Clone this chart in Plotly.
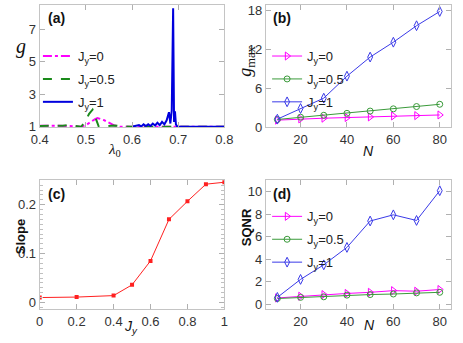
import plotly.graph_objects as go

# ---- panel (a): g vs lambda_0 ----
lam_jy0 = [0.40, 0.42, 0.44, 0.46, 0.48, 0.49, 0.50, 0.51, 0.52, 0.525, 0.53, 0.54, 0.55, 0.56, 0.574, 0.59, 0.60, 0.70, 0.80]
g_jy0 = [1.06, 1.08, 1.06, 1.05, 1.02, 1.0, 1.1, 1.3, 1.47, 1.54, 1.5, 1.4, 1.25, 1.1, 1.0, 1.0, 1.0, 1.0, 1.0]

lam_jy05 = [0.40, 0.43, 0.45, 0.46, 0.47, 0.48, 0.49, 0.50, 0.507, 0.5145, 0.52, 0.528, 0.54, 0.56, 0.57, 0.58, 0.60, 0.70, 0.80]
g_jy05 = [1.05, 1.05, 1.07, 1.1, 1.06, 1.02, 1.0, 1.4, 1.8, 2.05, 1.6, 1.0, 1.02, 1.08, 1.05, 1.02, 1.0, 1.0, 1.0]

lam_jy1 = [0.600, 0.610, 0.615, 0.620, 0.625, 0.630, 0.635, 0.640, 0.645, 0.650, 0.655, 0.660, 0.665, 0.670, 0.675,
           0.680, 0.683, 0.686, 0.689, 0.691, 0.693, 0.695, 0.697, 0.700, 0.710, 0.750, 0.800]
g_jy1 = [1.0, 1.05, 1.1, 1.02, 1.15, 1.05, 1.15, 1.05, 1.2, 1.08, 1.25, 1.1, 1.3, 1.15, 1.4,
         1.9, 1.2, 2.0, 8.3, 1.3, 1.95, 1.15, 1.05, 1.0, 1.0, 1.0, 1.0]

# ---- panel (b): g_max vs N ----
N = [10, 20, 30, 40, 50, 60, 70, 80]
gmax_jy0 = [1.1, 1.3, 1.4, 1.5, 1.6, 1.75, 1.8, 1.9]
gmax_jy05 = [1.2, 1.55, 1.85, 2.15, 2.5, 2.85, 3.2, 3.55]
gmax_jy1 = [1.25, 2.9, 4.5, 7.9, 10.85, 13.15, 15.7, 17.9]

# ---- panel (c): slope vs J_y ----
jy = [0, 0.2, 0.4, 0.5, 0.6, 0.7, 0.8, 0.9, 1.0]
slope = [0.010, 0.011, 0.014, 0.036, 0.085, 0.170, 0.207, 0.242, 0.246]

# ---- panel (d): SQNR vs N ----
sqnr_jy0 = [0.55, 0.7, 0.85, 0.95, 1.05, 1.2, 1.15, 1.3]
sqnr_jy05 = [0.5, 0.6, 0.65, 0.8, 0.85, 0.9, 1.0, 1.05]
sqnr_jy1 = [0.6, 2.2, 3.5, 5.05, 7.4, 7.95, 7.45, 10.1]

MAGENTA = "#ff00ff"
GREEN = "#1a8a1a"
BLUE = "#0000dd"
LBLUE = "#3a3ae8"
LGREEN = "#3a9a3a"
RED = "#ff2020"

fig = go.Figure()

# (a)
fig.add_trace(go.Scatter(x=lam_jy0, y=g_jy0, mode="lines", name="J<sub>y</sub>=0",
                         line=dict(color=MAGENTA, width=2, dash="dashdot"),
                         legend="legend", legendgroup="a0"))
fig.add_trace(go.Scatter(x=lam_jy05, y=g_jy05, mode="lines", name="J<sub>y</sub>=0.5",
                         line=dict(color=GREEN, width=2, dash="dash"),
                         legend="legend", legendgroup="a1"))
fig.add_trace(go.Scatter(x=lam_jy1, y=g_jy1, mode="lines", name="J<sub>y</sub>=1",
                         line=dict(color=BLUE, width=2),
                         legend="legend", legendgroup="a2"))

# (b)
fig.add_trace(go.Scatter(x=N, y=gmax_jy0, mode="lines+markers", name="J<sub>y</sub>=0",
                         line=dict(color=MAGENTA, width=1),
                         marker=dict(symbol="triangle-right-open", size=7, color=MAGENTA),
                         xaxis="x2", yaxis="y2", legend="legend2", legendgroup="b0"))
fig.add_trace(go.Scatter(x=N, y=gmax_jy05, mode="lines+markers", name="J<sub>y</sub>=0.5",
                         line=dict(color=LGREEN, width=1),
                         marker=dict(symbol="circle-open", size=6, color=LGREEN),
                         xaxis="x2", yaxis="y2", legend="legend2", legendgroup="b1"))
fig.add_trace(go.Scatter(x=N, y=gmax_jy1, mode="lines+markers", name="J<sub>y</sub>=1",
                         line=dict(color=LBLUE, width=1),
                         marker=dict(symbol="diamond-tall-open", size=7, color=LBLUE),
                         xaxis="x2", yaxis="y2", legend="legend2", legendgroup="b2"))

# (c)
fig.add_trace(go.Scatter(x=jy, y=slope, mode="lines+markers", showlegend=False,
                         line=dict(color=RED, width=1),
                         marker=dict(symbol="square", size=4, color=RED),
                         xaxis="x3", yaxis="y3"))

# (d)
fig.add_trace(go.Scatter(x=N, y=sqnr_jy0, mode="lines+markers", name="J<sub>y</sub>=0",
                         line=dict(color=MAGENTA, width=1),
                         marker=dict(symbol="triangle-right-open", size=7, color=MAGENTA),
                         xaxis="x4", yaxis="y4", legend="legend3", legendgroup="d0"))
fig.add_trace(go.Scatter(x=N, y=sqnr_jy05, mode="lines+markers", name="J<sub>y</sub>=0.5",
                         line=dict(color=LGREEN, width=1),
                         marker=dict(symbol="circle-open", size=6, color=LGREEN),
                         xaxis="x4", yaxis="y4", legend="legend3", legendgroup="d1"))
fig.add_trace(go.Scatter(x=N, y=sqnr_jy1, mode="lines+markers", name="J<sub>y</sub>=1",
                         line=dict(color=LBLUE, width=1),
                         marker=dict(symbol="diamond-tall-open", size=7, color=LBLUE),
                         xaxis="x4", yaxis="y4", legend="legend3", legendgroup="d2"))

axis_style = dict(showline=True, linecolor="#c4c4c4", linewidth=1, mirror="ticks",
                  ticks="inside", ticklen=5, tickcolor="#b0b0b0", showgrid=False,
                  zeroline=False, tickfont=dict(size=13, color="#333"))

xa = [0.069, 0.484]
xb = [0.577, 0.994]
ytop = [0.622, 0.988]
ybot = [0.077, 0.464]

legend_style = dict(xanchor="left", yanchor="top", bgcolor="rgba(0,0,0,0)",
                    font=dict(size=13, color="#222"), tracegroupgap=3)

fig.update_layout(
    width=463, height=343,
    margin=dict(l=0, r=0, t=0, b=0),
    paper_bgcolor="white", plot_bgcolor="white",
    font=dict(family="Liberation Sans, Arial, sans-serif", color="#222"),
    xaxis=dict(axis_style, domain=xa, range=[0.4, 0.8], tickvals=[0.4, 0.5, 0.6, 0.7, 0.8], anchor="y"),
    yaxis=dict(axis_style, domain=ytop, range=[0.97, 8.5], tickvals=[1, 3, 5, 7], anchor="x"),
    xaxis2=dict(axis_style, domain=xb, range=[5, 85], tickvals=[20, 40, 60, 80], anchor="y2"),
    yaxis2=dict(axis_style, domain=ytop, range=[0, 18.9], tickvals=[0, 6, 12, 18], anchor="x2"),
    xaxis3=dict(axis_style, domain=xa, range=[0, 1], tickvals=[0, 0.2, 0.4, 0.6, 0.8, 1],
                ticktext=["0", "0.2", "0.4", "0.6", "0.8", "1"], anchor="y3"),
    yaxis3=dict(axis_style, domain=ybot, range=[-0.014, 0.2505], tickvals=[0, 0.1, 0.2],
                minor=dict(dtick=0.01, ticks="inside", ticklen=3, tickcolor="#c0c0c0"), anchor="x3"),
    xaxis4=dict(axis_style, domain=xb, range=[5, 85], tickvals=[20, 40, 60, 80], anchor="y4"),
    yaxis4=dict(axis_style, domain=ybot, range=[-0.46, 11.05], tickvals=[0, 2, 4, 6, 8, 10], anchor="x4"),
    legend=dict(legend_style, x=0.065, y=0.88),
    legend2=dict(legend_style, x=0.58, y=0.88),
    legend3=dict(legend_style, x=0.58, y=0.40),
)

serif = "Liberation Serif, DejaVu Serif, serif"
ann = [
    dict(x=38, y=17, text="<b>(a)</b>", size=14, fam=None, ang=0),
    dict(x=273, y=17, text="<b>(b)</b>", size=14, fam=None, ang=0),
    dict(x=38, y=198, text="<b>(c)</b>", size=14, fam=None, ang=0),
    dict(x=273, y=198, text="<b>(d)</b>", size=14, fam=None, ang=0),
    dict(x=13, y=47, text="<i>g</i>", size=20, fam=serif, ang=0),
    dict(x=110, y=153, text="<i>λ</i><sub>0</sub>", size=15, fam=serif, ang=0),
    dict(x=247, y=62, text="<i>g</i><sub>max</sub>", size=18, fam=serif, ang=-90),
    dict(x=374, y=154, text="<i>N</i>", size=14, fam=None, ang=0),
    dict(x=12, y=242, text="<b>Slope</b>", size=13, fam=None, ang=-90),
    dict(x=127, y=335, text="<i>J<sub>y</sub></i>", size=14, fam=None, ang=0),
    dict(x=248, y=232, text="<b>SQNR</b>", size=13, fam=None, ang=-90),
    dict(x=375, y=333, text="<i>N</i>", size=14, fam=None, ang=0),
]
for a in ann:
    f = dict(size=a["size"], color="#111")
    if a["fam"]:
        f["family"] = a["fam"]
    fig.add_annotation(x=a["x"] / 463, y=1 - a["y"] / 343, xref="paper", yref="paper",
                       text=a["text"], showarrow=False, font=f, textangle=a["ang"],
                       xanchor="left" if a["text"].startswith("<b>(") else "center", yanchor="middle")

# drop the default body margin so the 463x343 figure fills the window exactly
fig.write_html("out.html", config={"displayModeBar": False},
               post_script="document.body.style.margin='0';")
